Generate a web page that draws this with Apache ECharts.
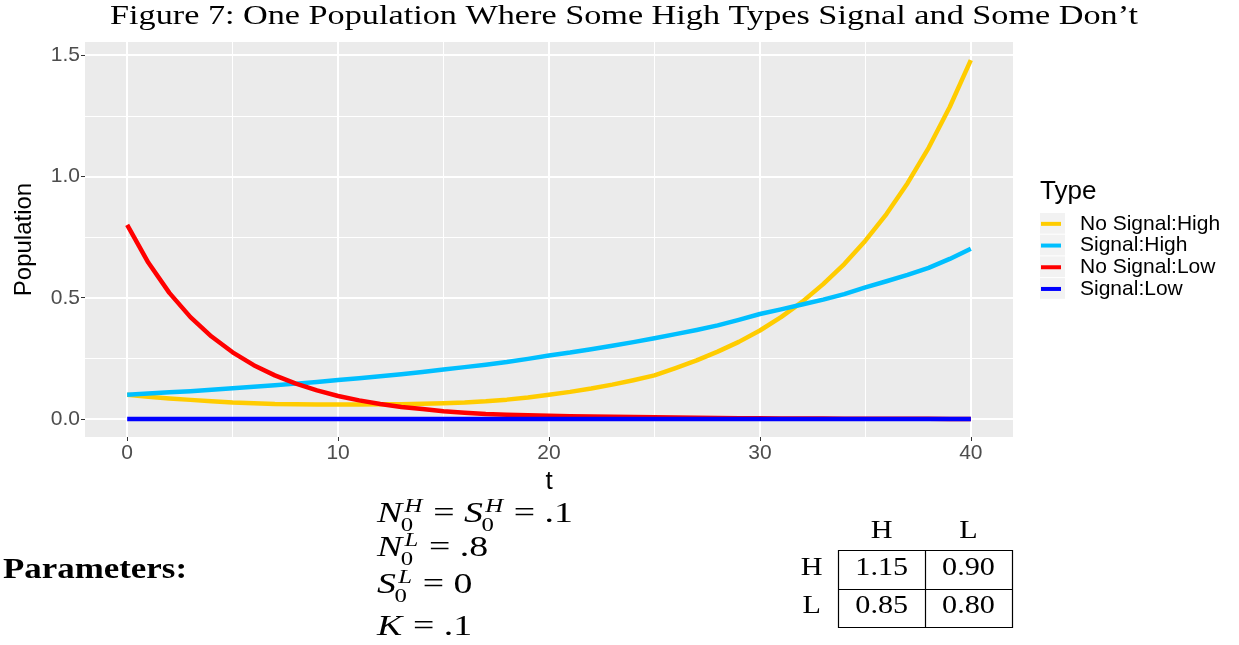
<!DOCTYPE html>
<html><head><meta charset="utf-8">
<script src="https://cdn.jsdelivr.net/npm/echarts@6/dist/echarts.min.js"></script>
<style>html,body{margin:0;padding:0;background:#fff}#chart{width:1239px;height:645px}</style>
</head><body><div id="chart"></div>
<script>
// ---------------- data ----------------
const tValues = [0,1,2,3,4,5,6,7,8,9,10,11,12,13,14,15,16,17,18,19,20,21,22,23,24,25,26,27,28,29,30,31,32,33,34,35,36,37,38,39,40];
const noSignalHigh = [0.100,0.092,0.085,0.079,0.073,0.068,0.065,0.062,0.061,0.060,0.060,0.060,0.061,0.061,0.063,0.065,0.068,0.073,0.080,0.089,0.100,0.112,0.126,0.142,0.160,0.180,0.210,0.242,0.278,0.318,0.365,0.420,0.483,0.556,0.639,0.735,0.845,0.972,1.118,1.286,1.479];
const signalHigh = [0.100,0.105,0.110,0.115,0.121,0.127,0.133,0.139,0.146,0.153,0.161,0.168,0.176,0.185,0.194,0.204,0.214,0.224,0.235,0.248,0.262,0.274,0.288,0.302,0.317,0.333,0.350,0.367,0.386,0.409,0.433,0.452,0.472,0.492,0.515,0.543,0.568,0.594,0.623,0.660,0.702];
const noSignalLow = [0.800,0.645,0.520,0.420,0.340,0.275,0.222,0.180,0.146,0.118,0.095,0.077,0.062,0.050,0.041,0.032,0.026,0.021,0.018,0.016,0.014,0.012,0.010,0.009,0.008,0.007,0.006,0.005,0.004,0.003,0.003,0.002,0.002,0.002,0.001,0.001,0.001,0.001,0.001,0.000,0.000];
const signalLow = [0,0,0,0,0,0,0,0,0,0,0,0,0,0,0,0,0,0,0,0,0,0,0,0,0,0,0,0,0,0,0,0,0,0,0,0,0,0,0,0,0];
const seriesNames = ['No Signal:High','Signal:High','No Signal:Low','Signal:Low'];
const seriesColors = ['#FFCC00','#00BFFF','#FF0000','#0000FF'];
const xTicks = [0,10,20,30,40];
const xMinor = [5,15,25,35];
const yTicks = [0,0.5,1.0,1.5];
const yMinor = [0.25,0.75,1.25];
const tableCols = ['H','L'];
const tableRows = ['H','L'];
const tableValues = [['1.15','0.90'],['0.85','0.80']];
const titleText = 'Figure 7: One Population Where Some High Types Signal and Some Don\u2019t';
// parameter lines: base letter with optional sup/sub, relations, numbers
const paramLines = [
  [{b:'N', sup:'H', sub:'0'}, {rel:'='}, {b:'S', sup:'H', sub:'0'}, {rel:'='}, {r:'.1'}],
  [{b:'N', sup:'L', sub:'0'}, {rel:'='}, {r:'.8'}],
  [{b:'S', sup:'L', sub:'0'}, {rel:'='}, {r:'0'}],
  [{b:'K'}, {rel:'='}, {r:'.1'}]
];

// ---------------- helpers ----------------
const SERIF = '"Liberation Serif", "Times New Roman", serif';
const SANS = '"Liberation Sans", Arial, sans-serif';
const mctx = document.createElement('canvas').getContext('2d');
function measure(text, font){ mctx.font = font; return mctx.measureText(text).width; }
const SX = 1.16;
function midY(baseline, size){ return baseline - 0.34*size; }

const graphics = [];
// title
const titleW = measure(titleText, '28px ' + SERIF);
graphics.push({type:'text', x:624, y:midY(26,28), scaleX:1028/titleW, style:{text:titleText, font:'28px ' + SERIF, fill:'#000', align:'center', verticalAlign:'middle'}});
// legend title + key backgrounds
graphics.push({type:'text', x:1040, y:192, style:{text:'Type', font:'26px ' + SANS, fill:'#000', align:'left', verticalAlign:'middle'}});
seriesNames.forEach((n,i)=>{
  graphics.push({type:'rect', z:-1, shape:{x:1040, y:213 + i*21.7, width:25, height:20.7}, style:{fill:'#f2f2f2'}});
});
// Parameters
const parW = measure('Parameters:', 'bold 30px ' + SERIF);
graphics.push({type:'text', x:3, y:midY(580,30), scaleX:184/parW, style:{text:'Parameters:', font:'bold 30px ' + SERIF, fill:'#000', align:'left', verticalAlign:'middle'}});

// math layout (TeX-like spacing), then scaled to the reference width
const M = 29, S = 19;
const fI = 'italic ' + M + 'px ' + SERIF, fR = M + 'px ' + SERIF, fIs = 'italic ' + S + 'px ' + SERIF, fRs = S + 'px ' + SERIF;
function layoutLine(items){
  const out = []; let c = 0;
  items.forEach(it=>{
    if (it.b){
      out.push({t:it.b, x:c, dy:0, f:fI, s:M});
      const w = measure(it.b, fI);
      let end = c + w;
      if (it.sup){ const sx = c + w + 0.06*M; out.push({t:it.sup, x:sx, dy:-11, f:fIs, s:S}); end = Math.max(end, sx + measure(it.sup, fIs)); }
      if (it.sub){ const bx = c + w - 0.04*M; out.push({t:it.sub, x:bx, dy:8, f:fRs, s:S}); end = Math.max(end, bx + measure(it.sub, fRs)); }
      c = end + 1;
    } else if (it.rel){
      c += 0.25*M; out.push({t:it.rel, x:c, dy:0, f:fR, s:M}); c += measure(it.rel, fR) + 0.25*M;
    } else {
      out.push({t:it.r, x:c, dy:0, f:fR, s:M}); c += measure(it.r, fR);
    }
  });
  return {items:out, width:c};
}
const laid = paramLines.map(layoutLine);
const mathSX = (573 - 377) / laid[0].width;
const baselines = [524, 558, 595, 637];
laid.forEach((ln, li)=>{
  ln.items.forEach(p=>{
    graphics.push({type:'text', x:377 + p.x*mathSX, y:midY(baselines[li] + p.dy, p.s), scaleX:mathSX,
      style:{text:p.t, font:p.f, fill:'#000', align:'left', verticalAlign:'middle'}});
  });
});

// payoff table
const colX = [881.7, 968.5], rowY = [577, 615];
tableCols.forEach((c,j)=>graphics.push({type:'text', x:colX[j], y:midY(540,26), scaleX:SX, style:{text:c, font:'26px ' + SERIF, fill:'#000', align:'center', verticalAlign:'middle'}}));
tableRows.forEach((r,i)=>{
  graphics.push({type:'text', x:811.7, y:midY(rowY[i],26), scaleX:SX, style:{text:r, font:'26px ' + SERIF, fill:'#000', align:'center', verticalAlign:'middle'}});
  tableValues[i].forEach((v,j)=>graphics.push({type:'text', x:colX[j], y:midY(rowY[i],26), scaleX:SX, style:{text:v, font:'26px ' + SERIF, fill:'#000', align:'center', verticalAlign:'middle'}}));
});
graphics.push({type:'rect', shape:{x:838.5, y:550.5, width:174, height:77}, style:{fill:'none', stroke:'#000', lineWidth:1.2}});
graphics.push({type:'line', shape:{x1:925.5, y1:550.5, x2:925.5, y2:627.5}, style:{stroke:'#000', lineWidth:1.2}});
graphics.push({type:'line', shape:{x1:838.5, y1:589.5, x2:1012.5, y2:589.5}, style:{stroke:'#000', lineWidth:1.2}});

// grid lines through the axes' own scales
const gridLineData = [
  ...xMinor.map(v=>({xAxis:v, lineStyle:{color:'#ffffff', width:1, type:'solid'}})),
  ...yMinor.map(v=>({yAxis:v, lineStyle:{color:'#ffffff', width:1, type:'solid'}})),
  ...xTicks.map(v=>({xAxis:v, lineStyle:{color:'#ffffff', width:2, type:'solid'}})),
  ...yTicks.map(v=>({yAxis:v, lineStyle:{color:'#ffffff', width:2, type:'solid'}}))
];

const dataSets = [noSignalHigh, signalHigh, noSignalLow, signalLow];
const series = dataSets.map((arr,i)=>({
  type:'line', name:seriesNames[i], data:tValues.map((t,k)=>[t, arr[k]]),
  showSymbol:false, symbol:'none', z:2, animation:false, clip:true,
  lineStyle:{width:4.5, color:seriesColors[i], cap:'butt', join:'round'},
  itemStyle:{color:seriesColors[i]}, emphasis:{disabled:true}
}));
series[0].markLine = {silent:true, z:1, animation:false, symbol:['none','none'], label:{show:false}, emphasis:{disabled:true}, data:gridLineData};

const chart = echarts.init(document.getElementById('chart'), null, {renderer:'canvas'});
chart.setOption({
  animation:false,
  backgroundColor:'#ffffff',
  grid:{left:85, right:226, top:42, bottom:208, show:true, backgroundColor:'#ebebeb', borderWidth:0, containLabel:false, outerBoundsMode:'none'},
  xAxis:{type:'value', min:-2, max:42,
    axisLine:{show:false, onZero:false}, splitLine:{show:false},
    axisTick:{show:true, customValues:xTicks, length:4, lineStyle:{color:'#333333', width:1}},
    axisLabel:{customValues:xTicks, color:'#4d4d4d', fontSize:21, fontFamily:SANS, margin:6},
    name:'t', nameLocation:'middle', nameGap:27, nameTextStyle:{color:'#000', fontSize:26, fontFamily:SANS}},
  yAxis:{type:'value', min:-0.074, max:1.554,
    axisLine:{show:false, onZero:false}, splitLine:{show:false},
    axisTick:{show:true, customValues:yTicks, length:4, lineStyle:{color:'#333333', width:1}},
    axisLabel:{customValues:yTicks, color:'#4d4d4d', fontSize:21, fontFamily:SANS, margin:5, formatter:v=>Number(v).toFixed(1)},
    name:'Population', nameLocation:'middle', nameGap:49, nameRotate:90, nameTextStyle:{color:'#000', fontSize:24, fontFamily:SANS}},
  legend:{data:seriesNames, orient:'vertical', left:1041, top:213, icon:'rect', itemWidth:20, itemHeight:4, itemGap:0, padding:0, selectedMode:false,
    textStyle:{fontSize:21, color:'#000', fontFamily:SANS, lineHeight:21.7, padding:[0,0,0,14]}},
  tooltip:{show:false},
  graphic:graphics,
  series:series
});
</script>
</body></html>
